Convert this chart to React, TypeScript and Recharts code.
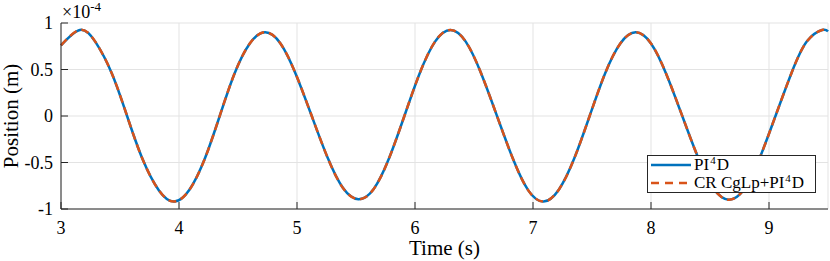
import { LineChart, Line, XAxis, YAxis, CartesianGrid, Label } from "recharts";

// time (s) and position (x1e-4 m)
const time = [
  3.0, 3.16, 3.29, 3.43, 3.56, 3.69, 3.83, 3.96, 4.09, 4.22, 4.345, 4.47, 4.6, 4.73,
  4.86, 4.99, 5.125, 5.26, 5.39, 5.52, 5.65, 5.78, 5.91, 6.04, 6.17, 6.3, 6.43, 6.56,
  6.695, 6.83, 6.96, 7.09, 7.22, 7.35, 7.48, 7.61, 7.74, 7.87, 8.0, 8.13, 8.265, 8.4,
  8.53, 8.66, 8.79, 8.92, 9.055, 9.19, 9.32, 9.45, 9.5,
];
const pi4d = [
  0.76, 0.925, 0.8, 0.46, 0.0, -0.46, -0.8, -0.92, -0.79, -0.455, 0.0, 0.455, 0.78, 0.9,
  0.78, 0.45, 0.0, -0.45, -0.775, -0.895, -0.785, -0.455, 0.0, 0.46, 0.8, 0.925, 0.8, 0.46,
  0.0, -0.46, -0.8, -0.92, -0.79, -0.455, 0.0, 0.455, 0.78, 0.9, 0.78, 0.45, 0.0, -0.45,
  -0.78, -0.9, -0.785, -0.455, 0.0, 0.46, 0.8, 0.925, 0.91,
];
const crCglp = [
  0.76, 0.925, 0.8, 0.46, 0.0, -0.46, -0.8, -0.92, -0.79, -0.455, 0.0, 0.455, 0.78, 0.9,
  0.78, 0.45, 0.0, -0.45, -0.775, -0.895, -0.785, -0.455, 0.0, 0.46, 0.8, 0.925, 0.8, 0.46,
  0.0, -0.46, -0.8, -0.92, -0.79, -0.455, 0.0, 0.455, 0.78, 0.9, 0.78, 0.45, 0.0, -0.45,
  -0.78, -0.9, -0.785, -0.455, 0.0, 0.46, 0.8, 0.925, 0.91,
];
const xTicks = [3, 4, 5, 6, 7, 8, 9];
const yTicks = [-1, -0.5, 0, 0.5, 1];

const data = time.map((t, i) => ({ t, a: pi4d[i], b: crCglp[i] }));

const BLUE = "#0072BD";
const ORANGE = "#D95319";
const AXIS = "#262626";
const FONT = "Liberation Serif";

const XTick = ({ x, y, payload }: any) => (
  <text x={x} y={y} dy="0.71em" textAnchor="middle" fontFamily={FONT} fontSize={18} fill="#000">
    {payload.value}
  </text>
);

const YTick = ({ x, y, payload }: any) => (
  <text x={x} y={y} dy="0.355em" textAnchor="end" fontFamily={FONT} fontSize={18} fill="#000">
    {payload.value}
  </text>
);

const supStyle = { fontSize: 11, verticalAlign: 6, lineHeight: 0, margin: "0 1px" };

const LegendBox = () => (
  <div
    style={{
      position: "absolute",
      left: 647,
      top: 155,
      width: 160,
      background: "#fff",
      border: `1px solid ${AXIS}`,
      fontFamily: FONT,
      fontSize: 17,
      color: "#000",
      padding: "0px 4px 0px 3px",
      lineHeight: "18px",
      whiteSpace: "nowrap",
    }}
  >
    <div style={{ display: "flex", alignItems: "center" }}>
      <svg width={40} height={18}>
        <line x1={0} x2={40} y1={9} y2={9} stroke={BLUE} strokeWidth={2.5} />
      </svg>
      <span style={{ marginLeft: 3 }}>
        PI<sup style={supStyle}>4</sup>D
      </span>
    </div>
    <div style={{ display: "flex", alignItems: "center" }}>
      <svg width={40} height={18}>
        <line x1={0} x2={40} y1={9} y2={9} stroke={ORANGE} strokeWidth={2.5} strokeDasharray="8 6" />
      </svg>
      <span style={{ marginLeft: 3 }}>
        CR CgLp+PI<sup style={supStyle}>4</sup>D
      </span>
    </div>
  </div>
);

const App = () => {
  return (
    <div
      style={{
        position: "absolute",
        left: 0,
        top: 0,
        width: 830,
        height: 261,
        background: "#fff",
        fontFamily: FONT,
      }}
    >
      <LineChart width={830} height={261} data={data} margin={{ top: 23, right: 2, left: 0, bottom: 0 }}>
        <CartesianGrid stroke="#e3e3e3" strokeWidth={1} />
        <XAxis
          dataKey="t"
          type="number"
          domain={[3, 9.5]}
          ticks={xTicks}
          height={52}
          stroke={AXIS}
          tickSize={-7}
          tickMargin={19}
          tick={<XTick />}
        >
          <Label
            content={({ viewBox }: any) => (
              <text
                x={viewBox.x + viewBox.width / 2}
                y={255}
                textAnchor="middle"
                fontFamily={FONT}
                fontSize={21}
                fill="#000"
              >
                Time (s)
              </text>
            )}
          />
        </XAxis>
        <XAxis
          xAxisId="top"
          dataKey="t"
          type="number"
          domain={[3, 9.5]}
          ticks={xTicks}
          orientation="top"
          height={0}
          stroke={AXIS}
          tickSize={-7}
          tick={false}
        />
        <YAxis
          type="number"
          domain={[-1, 1]}
          ticks={yTicks}
          width={61}
          stroke={AXIS}
          tickSize={-7}
          tickMargin={15}
          tick={<YTick />}
        >
          <Label
            content={({ viewBox }: any) => (
              <text
                x={0}
                y={0}
                transform={`translate(18, ${viewBox.y + viewBox.height / 2}) rotate(-90)`}
                textAnchor="middle"
                fontFamily={FONT}
                fontSize={21}
                fill="#000"
              >
                Position (m)
              </text>
            )}
          />
        </YAxis>
        <YAxis
          yAxisId="right"
          type="number"
          domain={[-1, 1]}
          ticks={yTicks}
          orientation="right"
          width={0}
          stroke={AXIS}
          tickSize={-7}
          tick={false}
        />
        <Line
          dataKey="a"
          type="natural"
          stroke={BLUE}
          strokeWidth={2.5}
          dot={false}
          isAnimationActive={false}
        />
        <Line
          dataKey="b"
          type="natural"
          stroke={ORANGE}
          strokeWidth={2.5}
          strokeDasharray="8 5"
          dot={false}
          isAnimationActive={false}
        />
      </LineChart>
      <LegendBox />
      <svg width={120} height={22} style={{ position: "absolute", left: 0, top: 0 }}>
        <text x={62} y={18} fontFamily={FONT} fontSize={18} fill="#000">
          ×10
          <tspan dy={-7} fontSize={13}>
            -4
          </tspan>
        </text>
      </svg>
    </div>
  );
};

export default App;
